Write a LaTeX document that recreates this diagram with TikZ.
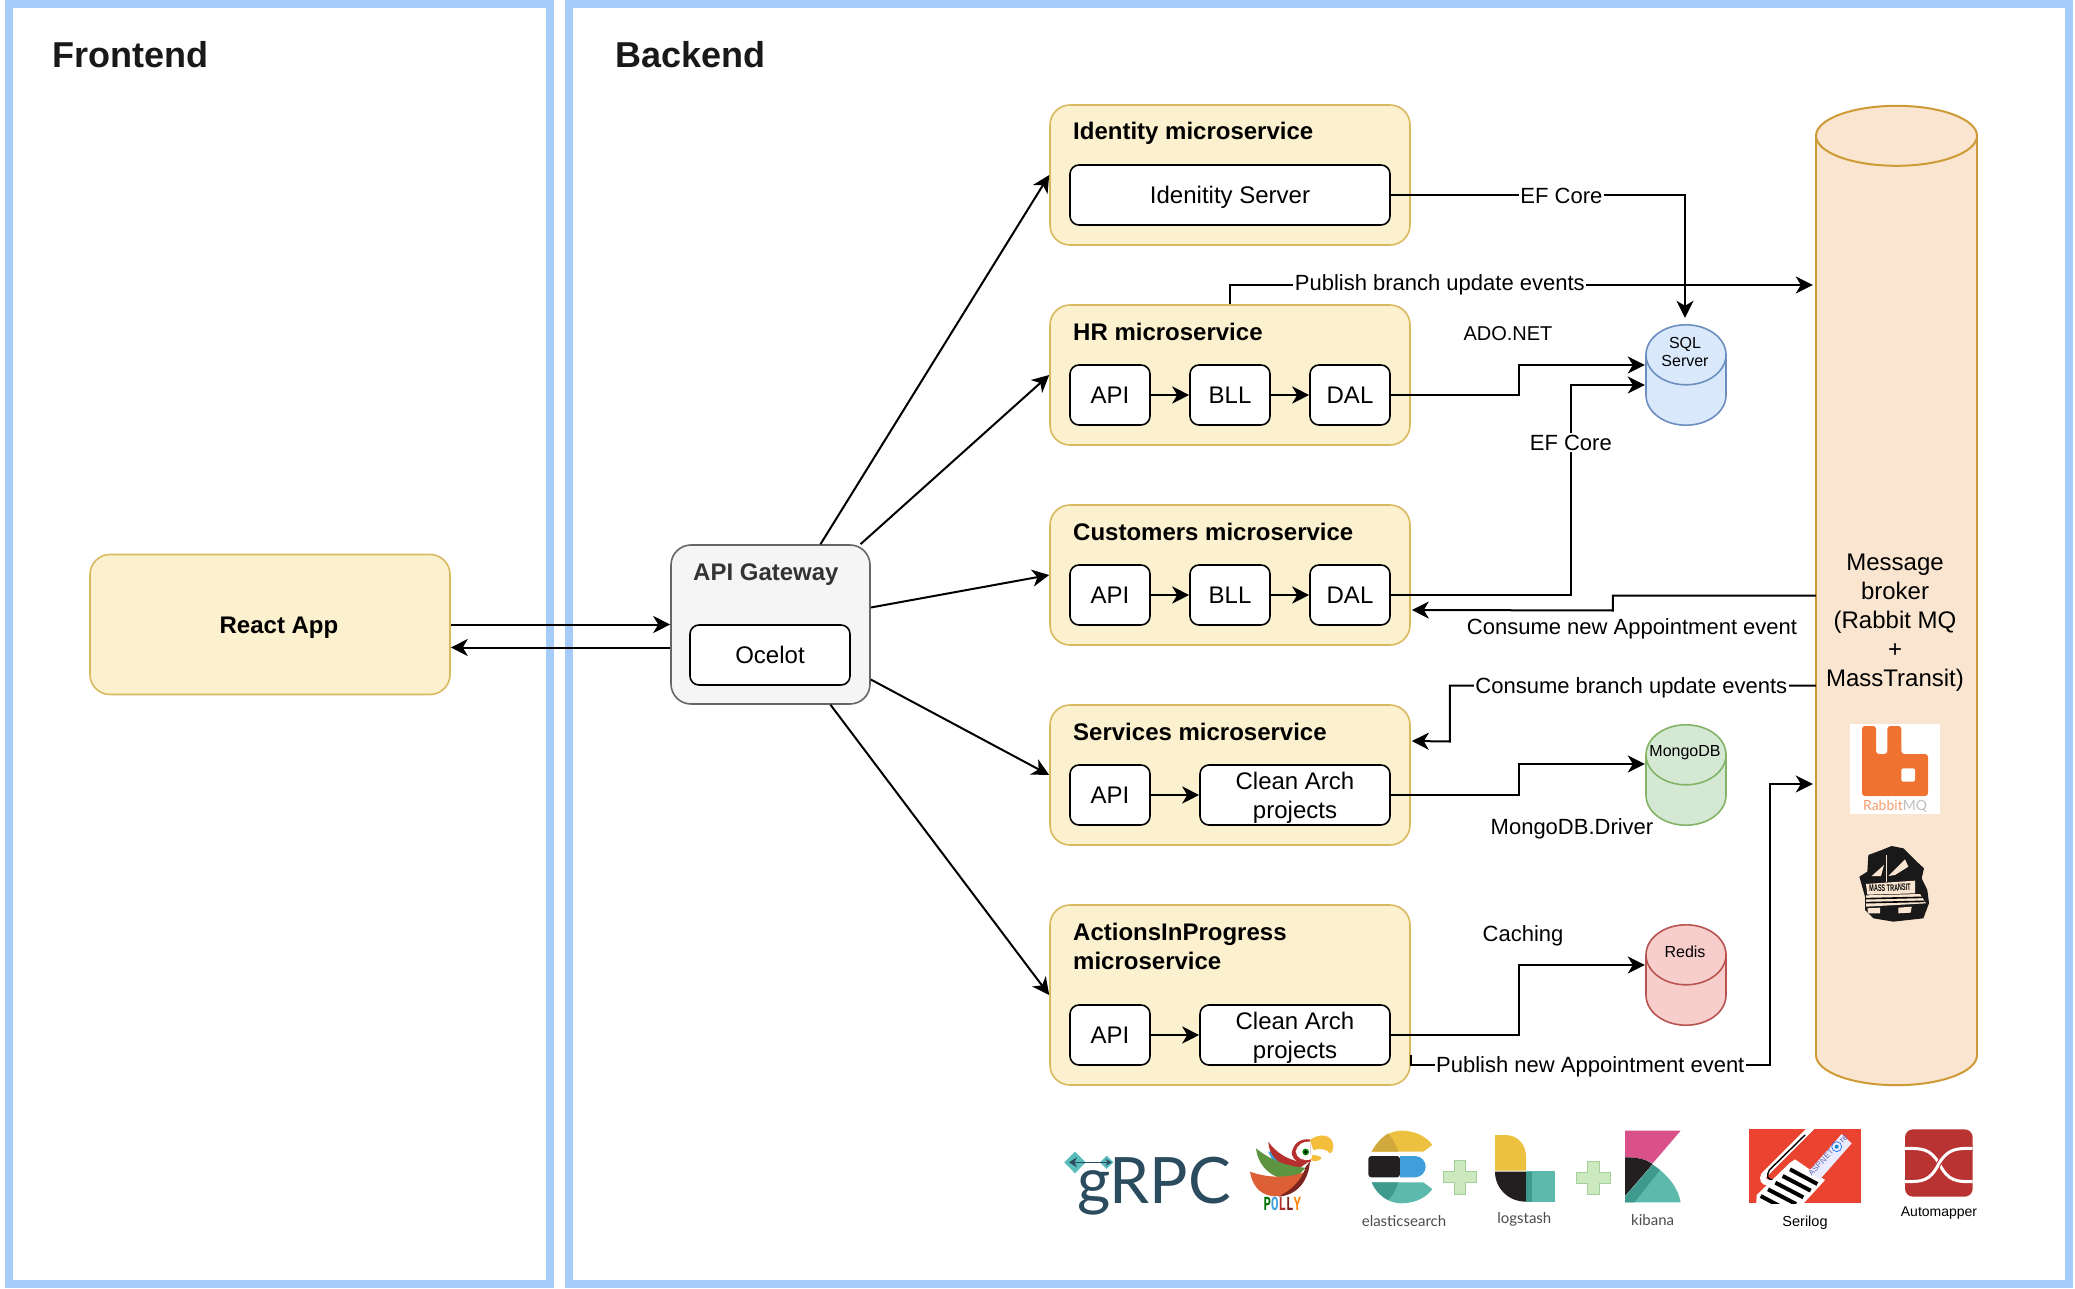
\documentclass[tikz,border=0pt]{standalone}
\usepackage{fontspec}
\usepackage{xcolor}
\usetikzlibrary{arrows.meta}
\setmainfont{Liberation Sans}
\newfontfamily\logofont{Lato}
\newfontfamily\monofont{Liberation Mono}
\newcommand{\fsize}[2]{\fontsize{#1}{#2}\selectfont}
% node name, colours, half width, height of the end
\newcommand{\drawStore}[4]{%
    \draw[#2] ([yshift=#4]#1.south) ellipse (#3 and #4);
    \path[#2, draw=none] ([yshift=#4]#1.south west) rectangle ([yshift=-#4]#1.north east);
    \draw[#2] ([yshift=#4]#1.south west) -- ([yshift=-#4]#1.north west);
    \draw[#2] ([yshift=#4]#1.south east) -- ([yshift=-#4]#1.north east);
    \draw[#2] ([yshift=-#4]#1.north) ellipse (#3 and #4);
}
\definecolor{panelBlue}{HTML}{A6CCF9}
\definecolor{yellowFill}{HTML}{FCF1CE}
\definecolor{yellowLine}{HTML}{D9B95F}
\definecolor{grayFill}{HTML}{F5F5F5}
\definecolor{grayLine}{HTML}{666666}
\definecolor{sqlFill}{HTML}{DAE8FC}
\definecolor{sqlLine}{HTML}{6C8EBF}
\definecolor{mongoFill}{HTML}{D5E8D4}
\definecolor{mongoLine}{HTML}{82B366}
\definecolor{redisFill}{HTML}{F8CECC}
\definecolor{redisLine}{HTML}{B85450}
\definecolor{brokerFill}{HTML}{FAE6D0}
\definecolor{brokerLine}{HTML}{CE9A36}
\definecolor{rabbitOrange}{HTML}{EF7230}
\definecolor{grpcDark}{HTML}{2B4C5E}
\definecolor{grpcTeal}{HTML}{5BBCBC}
\definecolor{esYellow}{HTML}{ECC13F}
\definecolor{esYellowDark}{HTML}{D0A83C}
\definecolor{esBlue}{HTML}{3E9FDC}
\definecolor{esTeal}{HTML}{5DB9AC}
\definecolor{esTealDark}{HTML}{3F9A8E}
\definecolor{esBlack}{HTML}{231F20}
\definecolor{kbPink}{HTML}{DA5089}
\definecolor{plusFill}{HTML}{CBE8BF}
\definecolor{plusLine}{HTML}{A3D098}
\definecolor{serilogRed}{HTML}{EA4430}
\definecolor{autoRed}{HTML}{B83331}
\definecolor{pollyRed}{HTML}{B5302E}
\definecolor{pollyDark}{HTML}{7D2320}
\definecolor{pollyGreen}{HTML}{5C9440}
\definecolor{pollyOrange}{HTML}{DD5F35}
\definecolor{pollyYellow}{HTML}{F5BE3A}

\begin{document}
\begin{tikzpicture}[x=1pt,y=-1pt,>={Stealth[length=17pt,width=17pt,inset=5pt]}]
        \tikzstyle{panel} = [draw=panelBlue, line width=8pt, fill=white, rectangle,
            minimum height=1280pt, inner sep=0pt];
        \tikzstyle{panelTitle} = [anchor=west, inner sep=0pt, text=black!90,
            font=\fsize{36}{40}\bfseries];
        \tikzstyle{group} = [draw=yellowLine, fill=yellowFill, line width=1.6pt, rectangle,
            rounded corners=20pt, minimum width=360pt, minimum height=140pt, inner sep=0pt,
            node distance=200pt];
        \tikzstyle{groupTitle} = [anchor=west, inner sep=0pt, align=left, text depth=0pt,
            font=\fsize{24}{29}\bfseries];
        \tikzstyle{block} = [draw, fill=white, line width=1.6pt, rectangle,
            rounded corners=9pt, minimum width=80pt, minimum height=60pt, inner sep=0pt,
            align=center, text depth=0pt, font=\fsize{24}{29}, node distance=120pt];
        \tikzstyle{store} = [rectangle, minimum width=80pt, minimum height=100pt, inner sep=0pt];
        \tikzstyle{storeSQL} = [draw=sqlLine, fill=sqlFill, line width=1.6pt];
        \tikzstyle{storeMongo} = [draw=mongoLine, fill=mongoFill, line width=1.6pt];
        \tikzstyle{storeRedis} = [draw=redisLine, fill=redisFill, line width=1.6pt];
        \tikzstyle{storeBroker} = [draw=brokerLine, fill=brokerFill, line width=2pt];
        \tikzstyle{storeText} = [inner sep=0pt, align=center, font=\fsize{16}{18.5}];
        \tikzstyle{stateEdge} = [black, line width=2pt, ->];
        \tikzstyle{edgeLabel} = [fill=white, inner sep=1.5pt, yshift=-1pt, font=\fsize{22}{26}];
        \tikzstyle{freeLabel} = [inner sep=0pt, font=\fsize{22}{26}];
        \tikzstyle{logoText} = [inner sep=0pt, text=black!70, font=\logofont\fsize{15}{18}];
        \tikzstyle{logoCaption} = [inner sep=0pt, font=\fsize{14.5}{18}];
        \tikzstyle{plusSign} = [draw=plusLine, fill=plusFill, line width=.8pt];
        \useasboundingbox (0,0) rectangle (2075,1289);

        % panels
        \node[panel, minimum width=541pt] (nodeFrontend) at (279,644) {};
        \node[panel, minimum width=1500pt] (nodeBackend) at (1319,644) {};
        \node[panelTitle] (titleFrontend) at (52,54.5) {Frontend};
        \node[panelTitle] (titleBackend) at (615,54.5) {Backend};

        % left side
        \node[group] (nodeReact) at (270,624.5) {};
        \node[inner sep=0pt, text depth=0pt, font=\fsize{24}{29}\bfseries] (titleReact) at (279,625) {React App};
        \node[draw=grayLine, fill=grayFill, line width=1.6pt, rectangle, rounded corners=20pt,
            minimum width=199pt, minimum height=159pt] (nodeGateway) at (770.5,624.5) {};
        \node[groupTitle, text=black!80] (titleGateway) at (693,572) {API Gateway};
        \node[block, minimum width=160pt] (nodeOcelot) at (770,655) {Ocelot};

        % microservices
        \node[group] (nodeIdentity) at (1230,175) {};
        \node[group, below of=nodeIdentity] (nodeHR) {};
        \node[group, below of=nodeHR] (nodeCustomers) {};
        \node[group, below of=nodeCustomers] (nodeServices) {};
        \node[group, below of=nodeServices, minimum height=180pt, node distance=220pt] (nodeActions) {};

        \node[groupTitle] (titleIdentity) at (1073,131) {Identity microservice};
        \node[groupTitle] (titleHR) at (1073,332) {HR microservice};
        \node[groupTitle] (titleCustomers) at (1073,532) {Customers microservice};
        \node[groupTitle] (titleServices) at (1073,732) {Services microservice};
        \node[groupTitle] (titleActions) at (1073,946) {ActionsInProgress\\microservice};

        \node[block, minimum width=320pt] (nodeIdServer) at (1230,195) {Idenitity Server};

        \node[block] (nodeHRApi) at (1110,395) {API};
        \node[block, right of=nodeHRApi] (nodeHRBll) {BLL};
        \node[block, right of=nodeHRBll] (nodeHRDal) {DAL};

        \node[block] (nodeCustApi) at (1110,595) {API};
        \node[block, right of=nodeCustApi] (nodeCustBll) {BLL};
        \node[block, right of=nodeCustBll] (nodeCustDal) {DAL};

        \node[block] (nodeServApi) at (1110,795) {API};
        \node[block, right of=nodeServApi, minimum width=190pt, node distance=185pt] (nodeServClean)
            {Clean Arch\\projects};

        \node[block] (nodeActApi) at (1110,1035) {API};
        \node[block, right of=nodeActApi, minimum width=190pt, node distance=185pt] (nodeActClean)
            {Clean Arch\\projects};

        % stores
        \node[store] (nodeSQL) at (1686,375) {};
        \node[store] (nodeMongo) at (1686,775) {};
        \node[store] (nodeRedis) at (1686,975) {};
        \drawStore{nodeSQL}{storeSQL}{40pt}{30pt}
        \drawStore{nodeMongo}{storeMongo}{40pt}{30pt}
        \drawStore{nodeRedis}{storeRedis}{40pt}{30pt}
        \node[storeText] (textSQL) at (1685,352) {SQL\\Server};
        \node[storeText] (textMongo) at (1685,753) {MongoDB};
        \node[storeText] (textRedis) at (1685,951.5) {Redis};

        \node[store, minimum width=161pt, minimum height=979pt] (nodeBroker) at (1896.5,595.5) {};
        \drawStore{nodeBroker}{storeBroker}{80.5pt}{30pt}
        \node[inner sep=0pt, align=center, font=\fsize{24}{29}] (textBroker) at (1895,623)
            {Message\\broker\\(Rabbit MQ\\+\\MassTransit)};

        % connectors
        \draw[stateEdge] (nodeReact.east) -- (nodeGateway.west);
        \draw[stateEdge] ([yshift=-23pt]nodeGateway.west) -- ([yshift=-23pt]nodeReact.east);

        \draw[stateEdge] ([xshift=50pt]nodeGateway.north) -- (nodeIdentity.west);
        \draw[stateEdge] ([xshift=90pt]nodeGateway.north) -- (nodeHR.west);
        \draw[stateEdge] ([yshift=17pt]nodeGateway.east) -- (nodeCustomers.west);
        \draw[stateEdge] ([yshift=-55pt]nodeGateway.east) -- (nodeServices.west);
        \draw[stateEdge] ([xshift=60pt]nodeGateway.south) -- (nodeActions.west);

        \draw[stateEdge] (nodeHRApi) -- (nodeHRBll);
        \draw[stateEdge] (nodeHRBll) -- (nodeHRDal);
        \draw[stateEdge] (nodeCustApi) -- (nodeCustBll);
        \draw[stateEdge] (nodeCustBll) -- (nodeCustDal);
        \draw[stateEdge] (nodeServApi) -- (nodeServClean);
        \draw[stateEdge] (nodeActApi) -- (nodeActClean);

        \draw[stateEdge] (nodeIdServer.east) -| node[edgeLabel, pos=.29]{EF Core}
            ([xshift=-1pt,yshift=7pt]nodeSQL.north);
        \draw[stateEdge] (nodeHR.north) |- node[edgeLabel, pos=.68, yshift=1pt]{Publish branch update events}
            ([xshift=-3pt,yshift=310.5pt]nodeBroker.west);
        \draw[stateEdge] (nodeHRDal.east) -- ++(128,0) |- ([xshift=-1pt,yshift=10pt]nodeSQL.west);
        \draw[stateEdge] (nodeCustDal.east) -- ++(180,0)
            -- node[edgeLabel, pos=.73]{EF Core} ++(0,-210)
            -- ([xshift=-1pt,yshift=-10pt]nodeSQL.west);
        \draw[stateEdge] (nodeBroker.west) -- ++(-203,0) -- ++(0,15)
            -- ([xshift=1pt,yshift=-35pt]nodeCustomers.east);
        \draw[stateEdge] ([yshift=-90pt]nodeBroker.west)
            -- node[edgeLabel, pos=.504, yshift=-1pt]{Consume branch update events} ++(-366,0)
            -- ++(0,56) -- ([xshift=1pt,yshift=34pt]nodeServices.east);
        \draw[stateEdge] (nodeServClean.east) -- ++(128,0) |- ([xshift=-1pt,yshift=11pt]nodeMongo.west);
        \draw[stateEdge] (nodeActClean.east) -- ++(128,0) |- ([xshift=-1pt,yshift=10pt]nodeRedis.west);
        \draw[stateEdge] ([yshift=-60pt]nodeActions.east) -- ++(0,10)
            -- node[edgeLabel, pos=.5, yshift=-1pt]{Publish new Appointment event} ++(359,0)
            -- ++(0,-281) -- ([xshift=-3pt,yshift=-188.5pt]nodeBroker.west);

        \node[freeLabel, font=\fsize{20}{24}] (labelAdo) at (1508,334) {ADO.NET};
        \node[freeLabel] (labelConsume) at (1632,628.5) {Consume new Appointment event};
        \node[freeLabel] (labelDriver) at (1572,829) {MongoDB.Driver};
        \node[freeLabel] (labelCaching) at (1523,936) {Caching};

        % rabbitmq logo
        \begin{scope}[shift={(1780,520)},scale=1/3]
            \fill[white] (210,612) rectangle (480,882);
            \fill[rabbitOrange, rounded corners=3pt] (246,618) -- (288,618) -- (288,702) -- (322,702)
                -- (322,618) -- (364,618) -- (364,702) -- (444,702) -- (444,828) -- (246,828) -- cycle;
            \fill[white, rounded corners=2pt] (364,745) rectangle (405,785);
            \node[inner sep=0pt, font=\logofont\fsize{14}{18}] (textRabbit) at (345,858)
                {\textcolor{rabbitOrange!70}{Rabbit}\textcolor{black!25}{MQ}};
        \end{scope}

        % masstransit bus
        \begin{scope}[shift={(1780,520)},scale=1/3]
            \fill[black!90] (265,1005) -- (300,992) -- (335,978) -- (370,985) -- (405,1020) -- (432,1045)
                -- (425,1075) -- (442,1110) -- (447,1150) -- (430,1195) -- (340,1205) -- (280,1195)
                -- (255,1170) -- (255,1130) -- (238,1070) -- (262,1055) -- cycle;
            \fill[brokerFill] (275,1068) -- (312,1035) -- (303,1068) -- cycle;
            \fill[brokerFill] (325,1068) -- (375,1018) -- (385,1040) -- (345,1065) -- cycle;
            \fill[brokerFill] (258,1092) -- (405,1082) -- (405,1120) -- (262,1124) -- cycle;
            \fill[brokerFill] (258,1126) -- (420,1122) -- (438,1150) -- (258,1160) -- cycle;
            \draw[black, line width=1.6pt] (258,1136) -- (428,1132);
            \draw[black, line width=1.6pt] (258,1148) -- (434,1144);
            \fill[brokerFill] (262,1165) -- (300,1163) -- (300,1180) -- (265,1180) -- cycle;
            \fill[brokerFill] (355,1163) -- (395,1160) -- (392,1178) -- (355,1180) -- cycle;
            \draw[brokerFill, line width=.8pt] (318,1005) -- (318,1085);
            \node[inner sep=0pt, rotate=2, xscale=.58, font=\fsize{9.5}{12}\bfseries] (textBus) at (330,1104)
                {MASS TRANSIT};
        \end{scope}

        % grpc logo
        \begin{scope}[shift={(1055,1120)},scale=1/3]
            \fill[grpcTeal] (60,95) -- (92,127) -- (60,160) -- (28,127) -- cycle;
            \fill[grpcTeal] (155,107) -- (175,127) -- (155,147) -- (135,127) -- cycle;
            \draw[grpcDark, line width=1.4pt, {Stealth[length=8pt,width=10pt]}-{Stealth[length=6pt,width=7pt]}]
                (42,127) -- (170,127);
            \node[anchor=base west, inner sep=0pt, text=grpcDark, font=\logofont\fsize{64}{70}] (textGrpc)
                at (66,250) {gRPC};
        \end{scope}

        % polly logo
        \begin{scope}[shift={(1055,1120)},scale=1/3]
            \fill[esBlue] (640,95) .. controls (650,120) and (665,135) .. (690,145) -- (660,95) -- cycle;
            \fill[pollyRed] (640,65) .. controls (660,95) and (700,125) .. (757,128)
                -- (725,150) .. controls (680,140) and (640,110) .. cycle;
            \fill[pollyGreen] (603,85) .. controls (640,115) and (690,140) .. (752,143)
                -- (725,172) .. controls (670,190) and (610,150) .. cycle;
            \fill[pollyOrange] (585,155) .. controls (640,175) and (700,175) .. (752,155)
                .. controls (735,215) and (690,232) .. (650,228) .. controls (610,222) and (590,190) .. cycle;
            \fill[pollyDark] (765,125) .. controls (760,180) and (730,225) .. (670,230)
                .. controls (720,205) and (745,170) .. (752,140) -- cycle;
            \fill[pollyYellow] (765,60) .. controls (790,40) and (830,40) .. (835,75)
                .. controls (835,90) and (830,100) .. (825,100) .. controls (815,85) and (790,85) .. (775,90) -- cycle;
            \fill[pollyYellow] (772,105) .. controls (785,105) and (800,110) .. (800,115)
                .. controls (790,125) and (775,125) .. (768,120) -- cycle;
            \fill[pollyRed] (710,100) .. controls (715,70) and (735,55) .. (765,58)
                -- (768,125) .. controls (740,135) and (715,125) .. cycle;
            \fill[white] (722,95) .. controls (725,75) and (745,62) .. (765,65)
                -- (768,118) .. controls (745,125) and (725,115) .. cycle;
            \fill[green!50!black] (752,96) circle (10);
            \fill[black] (752,96) circle (5);
            \node[inner sep=0pt, xscale=.62, font=\monofont\fsize{20}{22}\bfseries] (textPolly) at (682,252)
                {\textcolor{green!45!black}{P}\textcolor{esBlue}{O}\textcolor{pollyRed}{L}\textcolor{pollyDark}{L}\textcolor{orange}{Y}};
        \end{scope}

        % elastic stack
        \begin{scope}[shift={(1355,1120)},scale=1/3]
            \fill[esYellow] (50,95) .. controls (70,55) and (105,32) .. (140,32)
                .. controls (180,32) and (215,50) .. (232,75) -- (205,95) -- cycle;
            \fill[esYellowDark] (50,95) .. controls (65,68) and (85,48) .. (100,40)
                .. controls (115,60) and (125,78) .. (130,95) -- cycle;
            \fill[esBlack, rounded corners=3pt] (40,108) rectangle (135,172);
            \fill[esBlue] (135,108) -- (180,108) .. controls (200,108) and (212,125) .. (212,140)
                .. controls (212,155) and (200,172) .. (180,172) -- (135,172) -- cycle;
            \fill[esTeal] (50,187) -- (205,187) -- (232,207) .. controls (215,232) and (180,250) .. (140,250)
                .. controls (100,250) and (65,225) .. cycle;
            \fill[esTealDark] (50,187) -- (130,187) .. controls (125,205) and (115,225) .. (100,240)
                .. controls (80,230) and (60,210) .. cycle;
            \node[logoText] (textElastic) at (147,303) {elasticsearch};

            \draw[plusSign] (297,122) -- (332,122) -- (332,155) -- (365,155) -- (365,188) -- (332,188)
                -- (332,222) -- (297,222) -- (297,188) -- (265,188) -- (265,155) -- (297,155) -- cycle;

            \fill[esYellow] (420,45) -- (450,45) .. controls (490,45) and (513,75) .. (513,110)
                -- (513,152) -- (420,152) -- cycle;
            \fill[esBlack] (420,155) -- (513,155) -- (513,245) .. controls (460,245) and (420,205) .. cycle;
            \fill[esTeal] (513,152) rectangle (600,245);
            \fill[esTealDark] (513,155) rectangle (530,245);
            \node[logoText] (textLogstash) at (508,298) {logstash};

            \draw[plusSign] (698,125) -- (732,125) -- (732,158) -- (766,158) -- (766,190) -- (732,190)
                -- (732,224) -- (698,224) -- (698,190) -- (665,190) -- (665,158) -- (698,158) -- cycle;

            \fill[kbPink] (810,32) -- (977,32) -- (893,130) .. controls (870,115) and (840,112) .. (810,112) -- cycle;
            \fill[esBlack] (810,112) .. controls (840,112) and (870,115) .. (893,132) -- (810,228) -- cycle;
            \fill[esTeal] (893,134) .. controls (940,165) and (970,205) .. (977,247) -- (810,247) -- (810,230) -- cycle;
            \fill[esTealDark] (893,134) -- (810,230) -- (810,247) -- (838,247) -- (915,150) -- cycle;
            \node[logoText] (textKibana) at (893,300) {kibana};
        \end{scope}

        % serilog and automapper
        \begin{scope}[shift={(1740,1120)},scale=1/3]
            \fill[serilogRed] (27,28) rectangle (362,250);
            \begin{scope}
                \clip (27,28) rectangle (362,250);
                \draw[white, line width=6pt] (215,22) -- (72,165) .. controls (60,190) and (90,200) .. (150,165);
                \draw[black, line width=1.4pt] (195,45) -- (88,150) .. controls (70,185) and (100,190) .. (155,155);
                \fill[white] (150,128) -- (165,118) -- (255,180) -- (180,262) -- (48,262) -- (50,225) -- cycle;
                \fill[white!92!blue] (205,155) -- (305,42) -- (335,70) -- (240,178) -- cycle;
                \draw[black, line width=4pt] (150,148) -- (232,192);
                \draw[black, line width=4pt] (128,168) -- (212,212);
                \draw[black, line width=4pt] (106,188) -- (190,232);
                \draw[black, line width=4pt] (84,208) -- (168,252);
                \draw[black, line width=4pt] (62,228) -- (130,264);
                \node[inner sep=0pt, rotate=48, text=black!50!blue!60, font=\fsize{8}{10}] (textAsp) at (243,128) {ASP.NET};
                \draw[blue!60!cyan, line width=.6pt] (290,80) circle (15);
                \fill[cyan!70!blue] (290,80) circle (6);
                \node[inner sep=0pt, rotate=48, text=black!50!blue!60, font=\fsize{9}{10}] (textCore) at (312,58) {re};
            \end{scope}
            \node[logoCaption] (textSerilog) at (195,308) {Serilog};

            \fill[autoRed, rounded corners=8pt] (495,28) rectangle (698,230);
            \draw[white, line width=3pt] (495,85) .. controls (545,85) and (570,85) .. (597,130)
                .. controls (625,185) and (650,185) .. (698,185);
            \draw[autoRed, line width=5pt] (698,85) .. controls (650,85) and (625,85) .. (597,130)
                .. controls (570,185) and (545,185) .. (495,185);
            \draw[white, line width=3pt] (698,85) .. controls (650,85) and (625,85) .. (597,130)
                .. controls (570,185) and (545,185) .. (495,185);
            \node[logoCaption, font=\fsize{14}{18}] (textAuto) at (597,278) {Automapper};
        \end{scope}
    \end{tikzpicture}
\end{document}
